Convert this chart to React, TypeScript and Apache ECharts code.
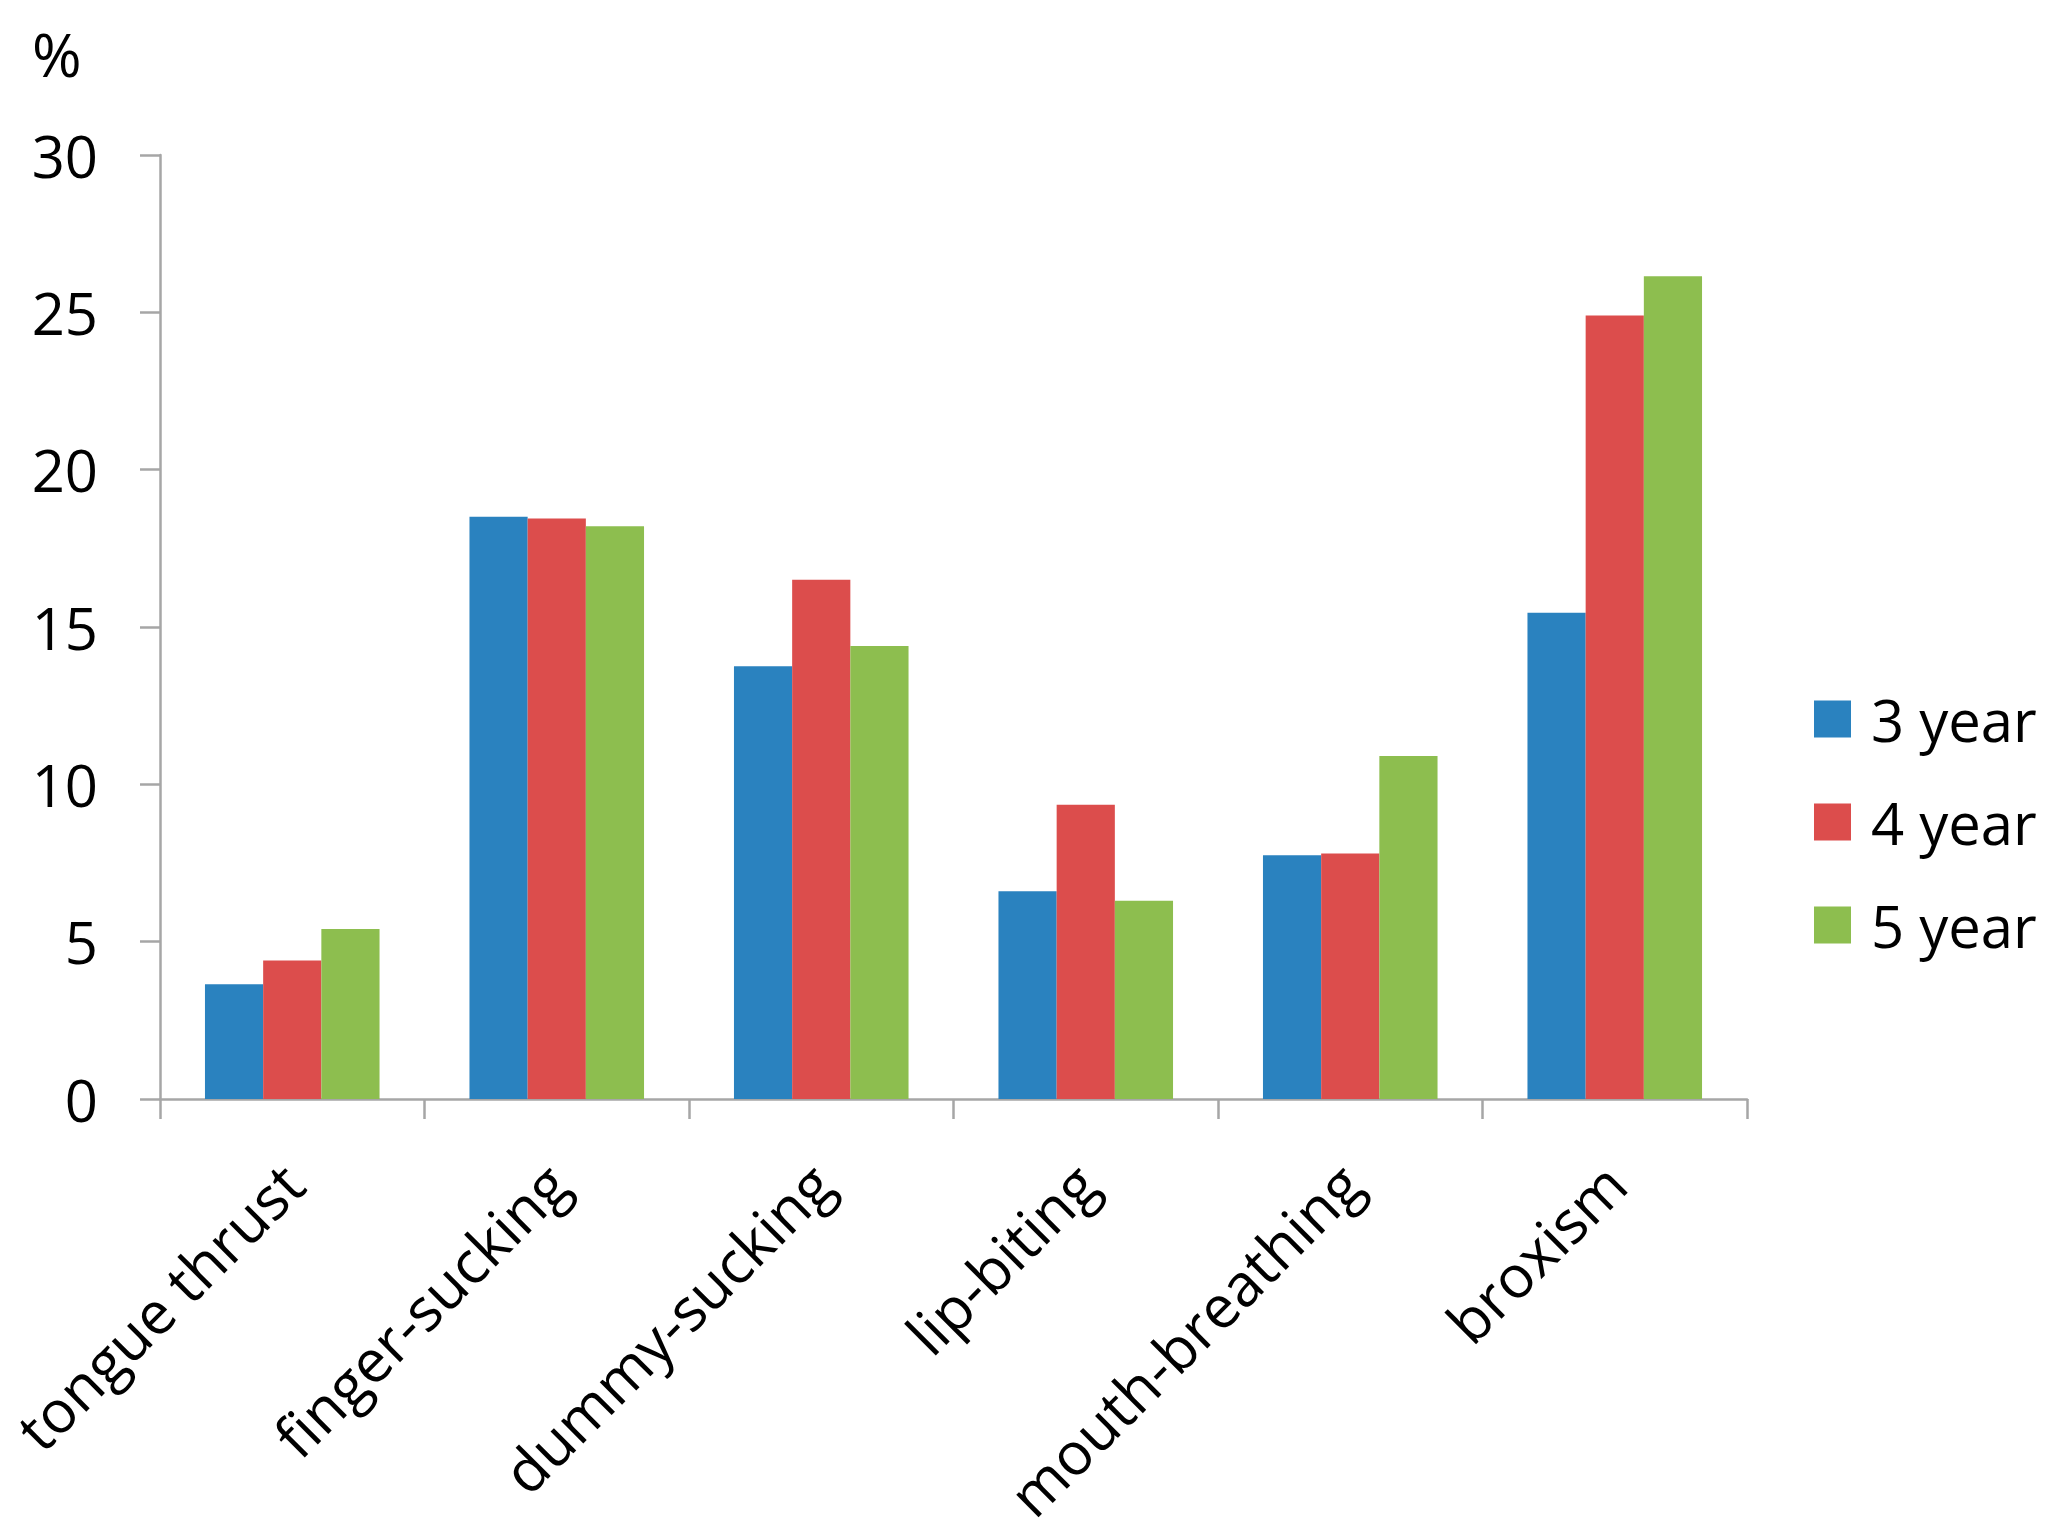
import React, { useEffect, useRef } from "react";
import * as echarts from "echarts";

const categories = ["tongue thrust", "finger-sucking", "dummy-sucking", "lip-biting", "mouth-breathing", "broxism"];
const seriesNames = ["3 year", "4 year", "5 year"];
const year3 = [3.65, 18.5, 13.75, 6.6, 7.75, 15.45];
const year4 = [4.4, 18.45, 16.5, 9.35, 7.8, 24.9];
const year5 = [5.4, 18.2, 14.4, 6.3, 10.9, 26.15];
const colors = ["#2A82BF", "#DC4D4C", "#8DBE4F"];
const yTicks = { min: 0, max: 30, interval: 5 };

const FONT = "'Open Sans', sans-serif";

export default function App() {
  const ref = useRef<HTMLDivElement>(null);
  useEffect(() => {
    if (!ref.current) return;
    const chart = echarts.init(ref.current, null, { renderer: "svg" });
    const data = [year3, year4, year5];
    chart.setOption({
      animation: false,
      backgroundColor: "#ffffff",
      textStyle: { fontFamily: FONT },
      grid: { left: 160, right: 312, top: 155, bottom: 432, containLabel: false },
      graphic: [
        {
          type: "text",
          left: 32,
          top: 24,
          style: { text: "%", font: `60px ${FONT}`, fill: "#000" },
        },
      ],
      legend: {
        orient: "vertical",
        left: 1809,
        top: 684,
        itemWidth: 37,
        itemHeight: 37,
        itemGap: 43,
        icon: "rect",
        data: seriesNames,
        textStyle: { fontSize: 58, fontFamily: FONT, color: "#000", lineHeight: 60, padding: [0, 0, 0, 15] },
      },
      xAxis: {
        type: "category",
        data: categories,
        axisLine: { lineStyle: { color: "#A6A6A6", width: 2.5 } },
        axisTick: { show: true, length: 20, lineStyle: { color: "#A6A6A6", width: 2.5 } },
        axisLabel: {
          rotate: 45,
          interval: 0,
          margin: 74,
          fontSize: 59,
          fontFamily: FONT,
          color: "#000",
          padding: [90, 0, 0, 0],
        },
      },
      yAxis: {
        type: "value",
        min: yTicks.min,
        max: yTicks.max,
        interval: yTicks.interval,
        splitLine: { show: false },
        axisLine: { show: true, lineStyle: { color: "#A6A6A6", width: 2.5 } },
        axisTick: { show: true, length: 20, lineStyle: { color: "#A6A6A6", width: 2.5 } },
        axisLabel: { margin: 62, fontSize: 58, fontFamily: FONT, color: "#000" },
      },
      series: seriesNames.map((name, i) => ({
        name,
        type: "bar",
        data: data[i],
        barGap: "0%",
        barCategoryGap: "34%",
        itemStyle: { color: colors[i] },
      })),
    });
    return () => chart.dispose();
  }, []);
  return (
    <div
      ref={ref}
      style={{ position: "fixed", left: 0, top: 0, width: 2059, height: 1531, background: "#fff" }}
    />
  );
}
